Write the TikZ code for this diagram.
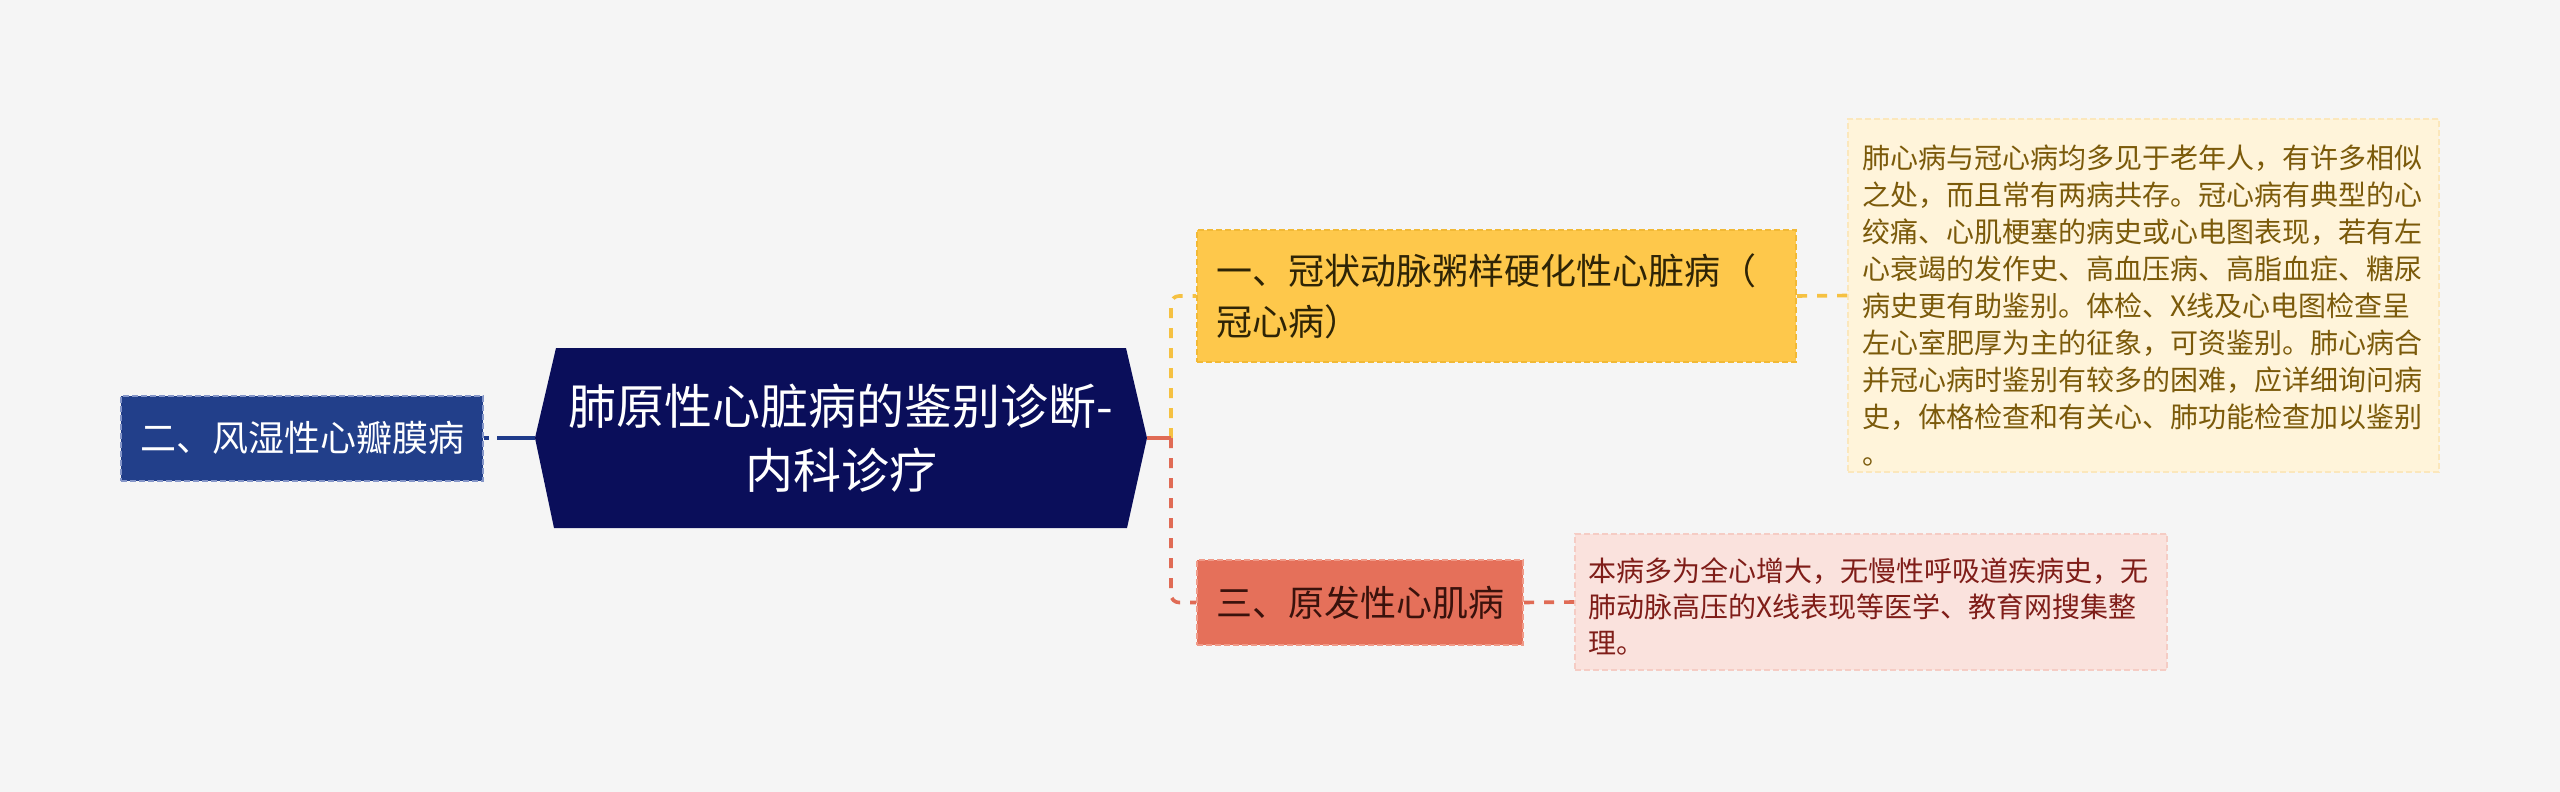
\documentclass[tikz,border=0pt]{standalone}
\usepackage{fontspec}
\setmainfont{Noto Sans CJK SC}
\usetikzlibrary{calc}
\definecolor{bgc}{HTML}{F5F5F5}
\definecolor{navy}{HTML}{0A0E5A}
\definecolor{blueF}{HTML}{223F8A}
\definecolor{blueB}{HTML}{8596C8}
\definecolor{blueL}{HTML}{1E3A8A}
\definecolor{yelF}{HTML}{FEC84B}
\definecolor{yelB}{HTML}{F2B935}
\definecolor{yelL}{HTML}{F5C142}
\definecolor{redF}{HTML}{E5705A}
\definecolor{redB}{HTML}{F09A88}
\definecolor{redL}{HTML}{E06B55}
\definecolor{note1F}{HTML}{FFF4DA}
\definecolor{note1B}{HTML}{FBE7BC}
\definecolor{note1T}{HTML}{7B5A0A}
\definecolor{note2F}{HTML}{FAE2DD}
\definecolor{note2B}{HTML}{F5CCC4}
\definecolor{note2T}{HTML}{7F1D18}
\definecolor{ytext}{HTML}{2E2406}
\definecolor{rtext}{HTML}{3A120C}
\tikzset{
  boxbase/.style={rectangle, inner sep=0pt, line width=1pt, dash pattern=on 3pt off 1.5pt},
  cnode/.style={inner sep=0pt, text=white, font=\fontsize{24pt}{32pt}\selectfont, align=center,
    minimum width=306pt, minimum height=90pt},
  lnode/.style={boxbase, fill=blueF, draw=blueB, text=white, font=\fontsize{18pt}{24pt}\selectfont,
    minimum width=181pt, minimum height=42.5pt},
  ynode/.style={boxbase, fill=yelF, draw=yelB, text=ytext, font=\fontsize{18pt}{25.5pt}\selectfont,
    minimum width=299.5pt, minimum height=66pt, text width=280pt, align=left, inner xsep=9.75pt},
  rnode/.style={boxbase, fill=redF, draw=redB, text=rtext, font=\fontsize{18pt}{24pt}\selectfont,
    minimum width=163pt, minimum height=42.5pt},
  n1box/.style={boxbase, fill=note1F, draw=note1B, minimum width=295.5pt, minimum height=176.5pt},
  n2box/.style={boxbase, fill=note2F, draw=note2B, minimum width=296pt, minimum height=68pt},
  n1text/.style={inner sep=0pt, anchor=north west, text=note1T, align=left,
    font=\fontsize{14pt}{18.5pt}\selectfont},
  n2text/.style={inner sep=0pt, anchor=north west, text=note2T, align=left,
    font=\fontsize{14pt}{18pt}\selectfont},
  conn/.style={line width=1.8pt},
  dconn/.style={line width=1.8pt, dash pattern=on 5pt off 5pt}
}
\begin{document}
\begin{tikzpicture}[x=0.5pt,y=-0.5pt]
\useasboundingbox (0,0) rectangle (2560,792);
\fill[bgc] (0,0) rectangle (2560,792);
% central hexagon
\coordinate (hW) at (535,438);
\coordinate (hNW) at (556,348);
\coordinate (hNE) at (1126,348);
\coordinate (hE) at (1147,438);
\coordinate (hSE) at (1127,528);
\coordinate (hSW) at (554,528);
\fill[navy] (hW) -- (hNW) -- (hNE) -- (hE) -- (hSE) -- (hSW) -- cycle;
\node[cnode] (c) at (841,438) {肺原性心脏病的鉴别诊断-\\内科诊疗};
% branches
\node[lnode] (l) at (302,438) {二、风湿性心瓣膜病};
\node[ynode] (y1) at (1496.5,296) {一、冠状动脉粥样硬化性心脏病（\\冠心病）};
\node[rnode] (r3) at (1360,602.5) {三、原发性心肌病};
% notes
\node[n1box] (n1) at (2143.5,295.5) {};
\node[n1text] (n1t) at ($(n1.north west)+(15,26)$) {肺心病与冠心病均多见于老年人，有许多相似\\之处，而且常有两病共存。冠心病有典型的心\\绞痛、心肌梗塞的病史或心电图表现，若有左\\心衰竭的发作史、高血压病、高脂血症、糖尿\\病史更有助鉴别。体检、X线及心电图检查呈\\左心室肥厚为主的征象，可资鉴别。肺心病合\\并冠心病时鉴别有较多的困难，应详细询问病\\史，体格检查和有关心、肺功能检查加以鉴别\\。};
\node[n2box] (n2) at (1871,602) {};
\node[n2text] (n2t) at ($(n2.north west)+(14,24)$) {本病多为全心增大，无慢性呼吸道疾病史，无\\肺动脉高压的X线表现等医学、教育网搜集整\\理。};
% connectors
\coordinate (j) at (1171,438);
\draw[conn, blueL, dash pattern=on 2.5pt off 4pt on 40pt off 0pt] (l.east) -- (c.west);
\draw[dconn, yelL, rounded corners=4pt] (j) |- (y1.west);
\draw[dconn, redL, rounded corners=4pt] (j) |- (r3.west);
\draw[conn, redL] (c.east) -- (j);
\draw[dconn, yelL] (y1.east) -- (n1.west);
\draw[dconn, redL] (r3.east) -- (n2.west);
\end{tikzpicture}
\end{document}
